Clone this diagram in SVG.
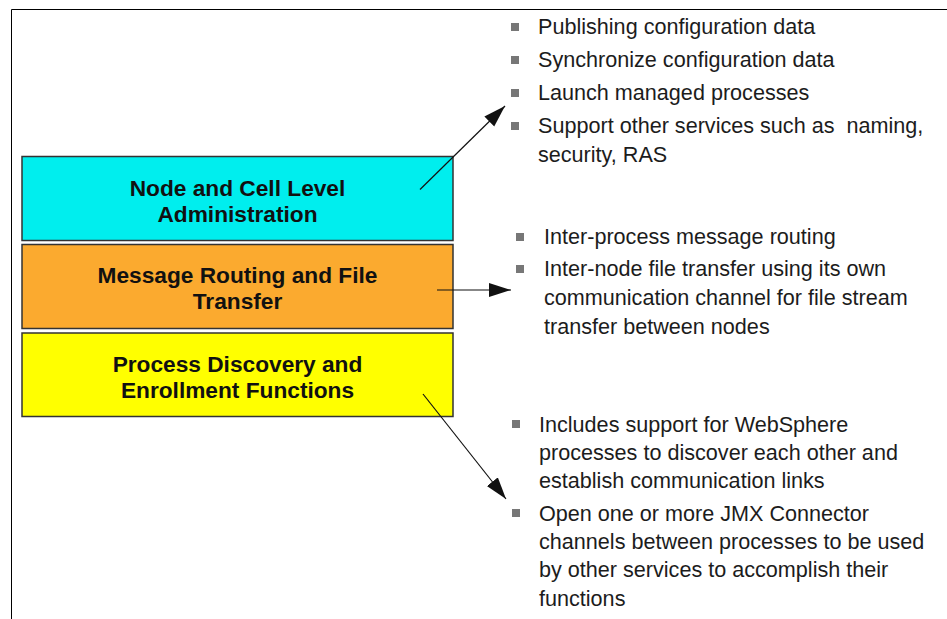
<svg xmlns="http://www.w3.org/2000/svg" width="947" height="619" viewBox="0 0 947 619">
<defs>
<marker id="ah" markerUnits="userSpaceOnUse" markerWidth="24" markerHeight="16" refX="22" refY="7" orient="auto">
<path d="M0,0 L22,7 L0,14 Z" fill="#111"/>
</marker>
<style>
.box{stroke:#333;stroke-width:1.5}
.title{font-family:"Liberation Sans",Arial,sans-serif;font-weight:bold;font-size:22.7px;fill:#111;text-anchor:middle}
.item{font-family:"Liberation Sans",Arial,sans-serif;font-size:21.6px;fill:#1c1c1c}
.bul{fill:#777}
.conn{stroke:#111;stroke-width:1.2;fill:none;marker-end:url(#ah)}
</style>
</defs>
<rect width="947" height="619" fill="#fff"/>
<path d="M947,9.5 H11.5 V619" fill="none" stroke="#000" stroke-width="1"/>
<g id="node-admin">
<rect class="box" x="22" y="156.5" width="431" height="84" fill="#00EEEE"/>
<text class="title" x="237.5" y="195.5">Node and Cell Level</text>
<text class="title" x="237.5" y="221.5">Administration</text>
</g>
<g id="node-routing">
<rect class="box" x="22" y="244.5" width="431" height="84" fill="#FBAA2F"/>
<text class="title" x="237.5" y="283">Message Routing and File</text>
<text class="title" x="237.5" y="309">Transfer</text>
</g>
<g id="node-discovery">
<rect class="box" x="22" y="333" width="431" height="83.5" fill="#FFFF00"/>
<text class="title" x="237.5" y="371.5">Process Discovery and</text>
<text class="title" x="237.5" y="398">Enrollment Functions</text>
</g>
<g id="list-admin">
<rect class="bul" x="511" y="23" width="8" height="8"/>
<text class="item" x="538" y="34">Publishing configuration data</text>
<rect class="bul" x="511" y="56" width="8" height="8"/>
<text class="item" x="538" y="67">Synchronize configuration data</text>
<rect class="bul" x="511" y="89" width="8" height="8"/>
<text class="item" x="538" y="100">Launch managed processes</text>
<rect class="bul" x="511" y="122" width="8" height="8"/>
<text class="item" x="538" y="133" xml:space="preserve">Support other services such as  naming,</text>
<text class="item" x="538" y="162">security, RAS</text>
</g>
<g id="list-routing">
<rect class="bul" x="516" y="233" width="8" height="8"/>
<text class="item" x="544" y="244">Inter-process message routing</text>
<rect class="bul" x="516" y="265" width="8" height="8"/>
<text class="item" x="544" y="276">Inter-node file transfer using its own</text>
<text class="item" x="544" y="305">communication channel for file stream</text>
<text class="item" x="544" y="334">transfer between nodes</text>
</g>
<g id="list-discovery">
<rect class="bul" x="512" y="420" width="8" height="8"/>
<text class="item" x="539" y="432">Includes support for WebSphere</text>
<text class="item" x="539" y="460">processes to discover each other and</text>
<text class="item" x="539" y="488">establish communication links</text>
<rect class="bul" x="512" y="509" width="8" height="8"/>
<text class="item" x="539" y="521">Open one or more JMX Connector</text>
<text class="item" x="539" y="549">channels between processes to be used</text>
<text class="item" x="539" y="577">by other services to accomplish their</text>
<text class="item" x="539" y="606">functions</text>
</g>
<g id="connectors">
<line class="conn" x1="420" y1="189.5" x2="505" y2="106"/>
<line class="conn" x1="437" y1="290" x2="511" y2="290"/>
<line class="conn" x1="423" y1="394" x2="506" y2="499"/>
</g>
</svg>
